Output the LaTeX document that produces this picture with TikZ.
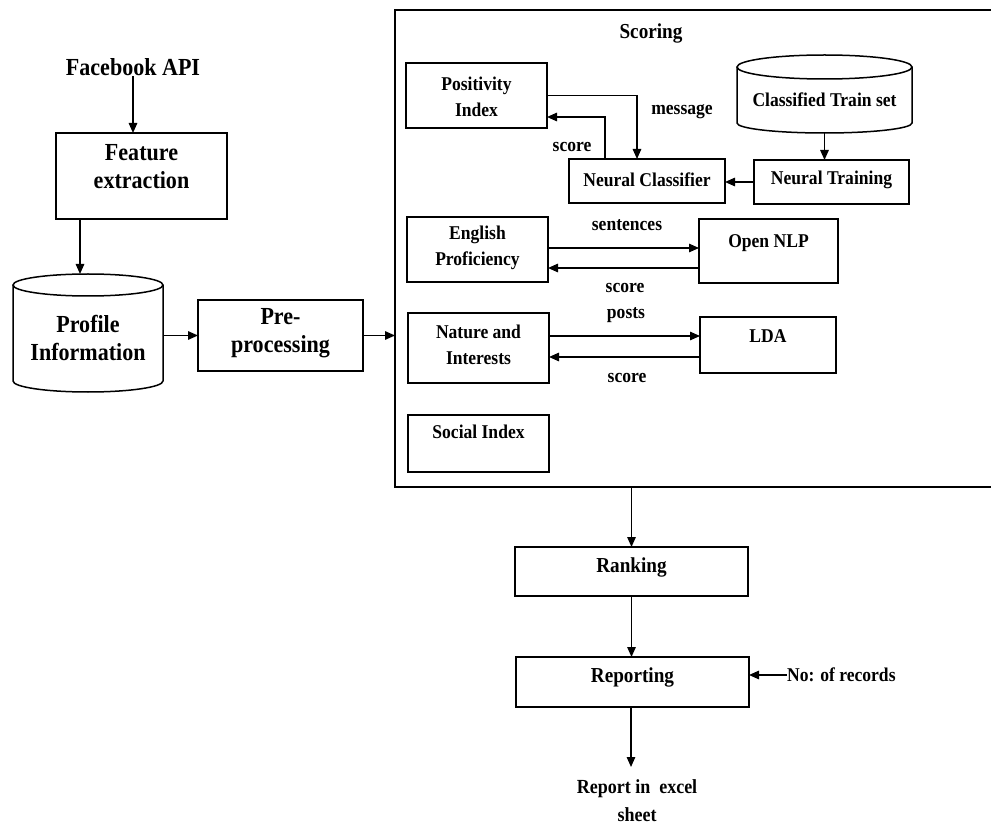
\documentclass[tikz,border=0pt]{standalone}
\usepackage{fontspec}
\setmainfont{Liberation Serif}[FakeStretch=0.9]
\usetikzlibrary{arrows.meta,calc}
\begin{document}
\begin{tikzpicture}[x=1pt,y=-1pt,
  box/.style={draw,line width=1.5pt,inner sep=0pt,outer sep=0pt},
  ghost/.style={inner sep=0pt,outer sep=0pt},
  arr/.style={line width=1.4pt,-{Triangle[length=10pt,width=8.5pt]}},
  ln/.style={line width=1.5pt},
  fl/.style={font=\fontsize{24.5}{28}\selectfont\bfseries,align=center,inner sep=0pt},
  fs/.style={font=\fontsize{19.5}{26}\selectfont\bfseries,align=center,inner sep=0pt},
  fm/.style={font=\fontsize{21.3}{28}\selectfont\bfseries,align=center,inner sep=0pt},
  lab/.style={font=\fontsize{19.5}{28}\selectfont\bfseries,align=center,inner sep=0pt}]
\useasboundingbox (0,0) rectangle (991,826);

% left column
\node[fl] (fbapi) at (133,67) {Facebook API};
\node[box,minimum width=171pt,minimum height=86pt] (fe) at (141.5,176) {};
\node[fl] (fet) at (141.5,167) {Feature\\extraction};
\node[ghost,minimum width=150pt,minimum height=118pt] (prof) at (88,333) {};
\draw[ln] ($(prof.north west)+(0,11)$) -- ($(prof.south west)+(0,-11)$)
  arc[start angle=180,end angle=360,x radius=75pt,y radius=11pt]
  -- ($(prof.north east)+(0,11)$);
\draw[ln] ($(prof.north)+(0,11)$) ellipse[x radius=75pt,y radius=11pt];
\node[fl] (proft) at (88,337.5) {Profile\\Information};
\node[box,minimum width=165pt,minimum height=71pt] (pp) at (280.5,335.5) {};
\node[fl] (ppt) at (280.5,333) {Pre-\\processing};

\draw[arr] (fbapi.south) -- (fbapi.south |- fe.north);
\coordinate (feout) at ($(fe.south west)+(24,0)$);
\draw[arr] (feout) -- (feout |- prof.north);
\draw[arr] (prof.east |- pp.west) -- (pp.west);

% scoring box
\node[box,minimum width=598pt,minimum height=477pt] (sc) at (694,248.5) {};
\draw[arr] (pp.east) -- (pp.east -| sc.west);
\node[fm] (sct) at (651,33) {Scoring};

\node[box,minimum width=141pt,minimum height=65pt] (pos) at (476.5,95.5) {};
\node[fs] (post) at (476.5,97) {Positivity\\Index};

\node[ghost,minimum width=175pt,minimum height=78pt] (cts) at (824.5,94) {};
\draw[ln] ($(cts.north west)+(0,12)$) -- ($(cts.south west)+(0,-10)$)
  arc[start angle=180,end angle=360,x radius=87.5pt,y radius=10pt]
  -- ($(cts.north east)+(0,12)$);
\draw[ln] ($(cts.north)+(0,12)$) ellipse[x radius=87.5pt,y radius=12pt];
\node[fs] (ctst) at (824.5,100) {Classified Train set};

\node[box,minimum width=155pt,minimum height=44pt] (nt) at (831.5,182) {};
\node[fs] (ntt) at (831.5,180) {Neural Training};
\node[box,minimum width=156pt,minimum height=44pt] (nc) at (647,181) {};
\node[fs] (nct) at (647,180) {Neural Classifier};

\draw[arr] (cts.south) -- (cts.south |- nt.north);
\draw[arr] (nt.west) -- (nt.west -| nc.east);
\draw[arr] (pos.east) -| ($(nc.north)+(-10,0)$);
\draw[arr] ($(nc.north)+(-42,0)$) |- ($(pos.east)+(0,21.5)$);
\node[lab] (lmsg) at (682,112) {message};
\node[lab] (lsc1) at (572,147) {score};

\node[box,minimum width=141pt,minimum height=65pt] (ep) at (477.5,249.5) {};
\node[fs] (ept) at (477.5,247.5) {English\\Proficiency};
\node[box,minimum width=139pt,minimum height=64pt] (onlp) at (768.5,251) {};
\node[fs] (onlpt) at (768.5,243) {Open NLP};
\coordinate (s1) at ($(ep.east)+(0,-1.5)$);
\draw[arr] (s1) -- (s1 -| onlp.west);
\coordinate (s2) at ($(onlp.west)+(0,17)$);
\draw[arr] (s2) -- (s2 -| ep.east);
\node[lab] (lsen) at (627,225) {sentences};
\node[lab] (lsc2) at (625,288) {score};

\node[box,minimum width=141pt,minimum height=70pt] (ni) at (478.5,348) {};
\node[fs] (nit) at (478.5,344.5) {Nature and\\Interests};
\node[box,minimum width=136pt,minimum height=56pt] (lda) at (768,345) {};
\node[fs] (ldat) at (768,336) {LDA};
\coordinate (p1) at ($(ni.east)+(0,-12)$);
\draw[arr] (p1) -- (p1 -| lda.west);
\coordinate (p2) at ($(lda.west)+(0,12)$);
\draw[arr] (p2) -- (p2 -| ni.east);
\node[lab] (lpst) at (626,315) {posts};
\node[lab] (lsc3) at (627,378) {score};

\node[box,minimum width=141pt,minimum height=57pt] (si) at (478.5,443.5) {};
\node[fs] (sit) at (478.5,432) {Social Index};

% bottom
\node[box,minimum width=233pt,minimum height=49pt] (rank) at (631.5,571.5) {};
\node[fm] (rankt) at (631.5,567) {Ranking};
\node[box,minimum width=233pt,minimum height=50pt] (rep) at (632.5,682) {};
\node[fm] (rept) at (632.5,677) {Reporting};
\node[lab,anchor=west] (nor) at (787,675) {No: of records};
\node[font=\fontsize{20}{28}\selectfont\bfseries,align=center,inner sep=0pt] (rt) at (637,801) {Report in\ \ excel\\sheet};

\draw[arr] (rank.north |- sc.south) -- (rank.north);
\draw[arr] (rank.south) -- (rank.south |- rep.north);
\draw[arr] (nor.west) -- (nor.west -| rep.east);
\draw[arr] ($(rep.south)+(-1.5,0)$) -- ($(rep.south)+(-1.5,60)$);
\end{tikzpicture}
\end{document}
